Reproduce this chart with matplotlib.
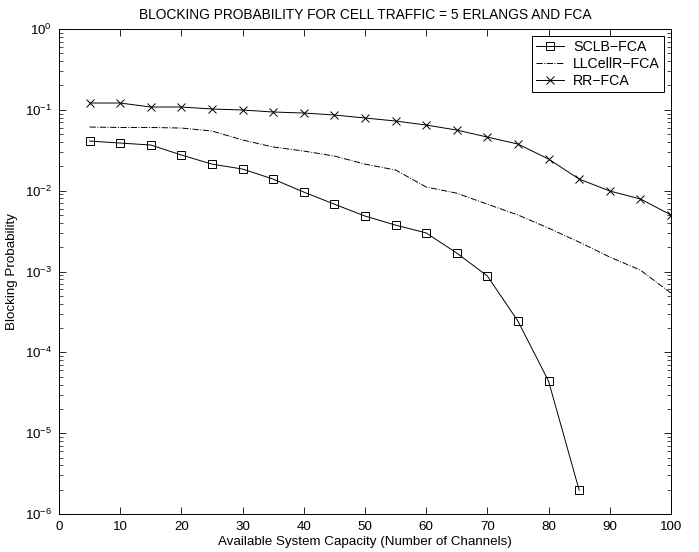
import matplotlib
matplotlib.use('Agg')
import matplotlib.pyplot as plt
from matplotlib.ticker import LogLocator, NullFormatter

plt.rcParams['font.family'] = ['Liberation Sans', 'DejaVu Sans']

# channels (x axis)
channels = [5, 10, 15, 20, 25, 30, 35, 40, 45, 50, 55, 60, 65, 70, 75, 80, 85, 90, 95, 100]

# SCLB-FCA (squares), ends at 85
sclb = [0.0411, 0.0388, 0.0367, 0.0276, 0.0213, 0.0185, 0.0139, 0.0096, 0.0068, 0.00485,
        0.00375, 0.0030, 0.00169, 0.00088, 0.000243, 4.4e-5, 1.97e-6]

# LLCellR-FCA (dash-dot)
llcellr = [0.0612, 0.0605, 0.0605, 0.0595, 0.0547, 0.0423, 0.0347, 0.0309, 0.0268, 0.0213,
           0.0180, 0.0111, 0.0093, 0.0068, 0.0050, 0.00344, 0.00231, 0.00151, 0.00104, 0.00054]

# RR-FCA (x markers)
rr = [0.1214, 0.1214, 0.1083, 0.1083, 0.1023, 0.0995, 0.0939, 0.0913, 0.0863, 0.0792,
      0.0727, 0.0648, 0.0562, 0.0460, 0.0377, 0.0246, 0.0139, 0.0099, 0.0079, 0.0050]

fs = 9.6

fig = plt.figure(figsize=(6.99, 5.52), dpi=100)
ax = fig.add_axes([0.0844, 0.0688, 0.8755, 0.8787])

ax.semilogy(channels[:len(sclb)], sclb, 'k-', marker='s', markerfacecolor='none',
            markersize=6, linewidth=0.7, markeredgewidth=0.7, label='SCLB\u2212FCA')
ax.semilogy(channels, llcellr, 'k-.', linewidth=0.7, label='LLCellR\u2212FCA')
ax.semilogy(channels, rr, 'k-', marker='x', markersize=6, linewidth=0.7,
            markeredgewidth=0.7, label='RR\u2212FCA')

ax.set_xlim(0, 100)
ax.set_ylim(1e-6, 1)
ax.set_xticks(range(0, 101, 10))
ax.yaxis.set_major_locator(LogLocator(base=10, numticks=10))
ax.yaxis.set_minor_locator(LogLocator(base=10, subs=range(2, 10), numticks=20))
ax.yaxis.set_minor_formatter(NullFormatter())

ax.tick_params(which='both', direction='in', top=True, right=True, labelsize=fs)
ax.tick_params(which='major', length=5, width=0.6, pad=5)
ax.tick_params(which='minor', length=3, width=0.5)
for s in ax.spines.values():
    s.set_linewidth(0.7)

ax.set_title('BLOCKING PROBABILITY FOR CELL TRAFFIC = 5 ERLANGS AND FCA', fontsize=9.9, pad=7)
ax.set_xlabel('Available System Capacity (Number of Channels)', fontsize=fs, labelpad=2)
ax.set_ylabel('Blocking Probability', fontsize=fs, labelpad=5)

leg = ax.legend(loc='upper right', fontsize=fs + 0.6, fancybox=False, edgecolor='black',
                framealpha=1, handlelength=2.0, borderaxespad=0.5, labelspacing=0.2,
                borderpad=0.3, handletextpad=0.6)
leg.get_frame().set_linewidth(0.7)

fig.savefig('out.png', dpi=100)
